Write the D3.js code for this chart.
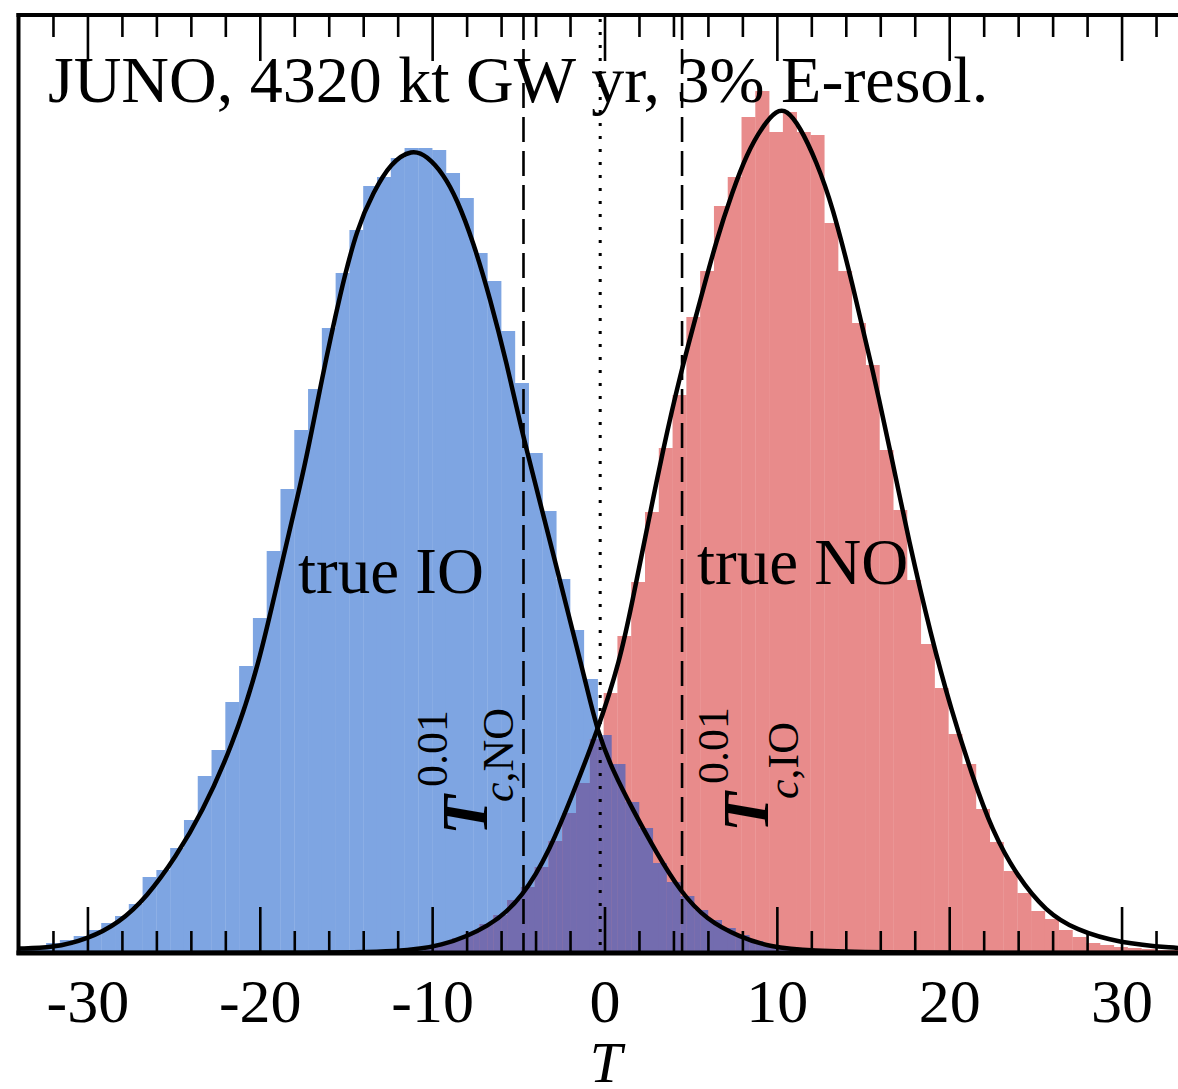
<!DOCTYPE html>
<html lang="en">
<head>
<meta charset="UTF-8">
<title>JUNO test statistic distributions</title>
<script src="https://d3js.org/d3.v7.min.js"></script>
<style>
  body { margin: 0; background: #fff; }
  svg { display: block; font-family: "Liberation Serif", "Times New Roman", serif; }
</style>
</head>
<body>
<div id="chart"></div>
<script>
// histogram of pseudo-experiments, 0.8 wide bins
const binWidth = 0.8;
const ioFirstEdge = -34.0;   // true IO (blue)
const ioCounts = [50, 70, 100, 130, 170, 230, 300, 370, 490, 760,
                  830, 1050, 1330, 1770, 2030, 2510, 2870, 3350, 4020, 4640,
                  5230, 5640, 6250, 6800, 7230, 7670, 7760, 7950, 8050, 8050,
                  8030, 7800, 7550, 7000, 6720, 6220, 5700, 5000, 4420, 3740,
                  3230, 2740, 2180, 1890, 1510, 1250, 900, 710, 570, 430,
                  330, 250, 180, 120, 80, 50, 30, 20, 10];
const noFirstEdge = -10.45;  // true NO (red)
const noCounts = [60, 100, 150, 210, 290, 380, 530, 660, 860, 1120,
                  1400, 1700, 2140, 2600, 3170, 3710, 4410, 5050, 5580, 6360,
                  6820, 7470, 7760, 8360, 8620, 8210, 8410, 8210, 8180, 7300,
                  6820, 6300, 5880, 5030, 4430, 3730, 3090, 2650, 2190, 1890,
                  1440, 1110, 820, 600, 420, 340, 230, 160, 100, 80,
                  60, 50, 40, 30, 30, 20];

// fitted distributions, points
const ioCurveT = [-34, -32.05, -29.97, -28.17, -26.55, -24.87, -23.36, -21.62, -20.06, -18.73,
                  -17.34, -16.42, -15.32, -14.35, -13.4, -12.42, -11.16, -10.3, -9.35, -8.56,
                  -7.61, -6.63, -5.66, -4.89, -3.73, -2.77, -1.61, -1.03, -0.38, 0.49,
                  1.65, 3.02, 4.37, 5.92, 7.85, 9.58, 12, 16, 22, 34];
const ioCurveN = [45, 50, 140, 300, 560, 960, 1400, 2060, 2870, 3900,
                  4890, 5730, 6610, 7255, 7610, 7900, 8040, 7970, 7790, 7540,
                  7110, 6540, 5890, 5280, 4500, 3850, 3060, 2660, 2200, 1820,
                  1430, 1000, 620, 330, 160, 60, 20, 5, 0, 0];
const noCurveT = [-34, -16, -12, -9.53, -6.63, -4.72, -3.16, -1.82, -0.45, 0.9,
                  1.65, 2.52, 3.39, 4.37, 5.53, 6.51, 7.44, 8.25, 9.18, 9.99,
                  10.57, 11.32, 12.3, 13.23, 14.39, 15.55, 16.71, 17.63, 18.96, 20.12,
                  21.34, 22.5, 23.89, 25.62, 27.36, 29.85, 33.15, 34];
const noCurveN = [0, 0, 15, 60, 260, 560, 1030, 1600, 2200, 2920,
                  3545, 4290, 5030, 5770, 6510, 7140, 7620, 7990, 8270, 8430,
                  8430, 8270, 7915, 7470, 6690, 5840, 4920, 4140, 3160, 2430,
                  1770, 1220, 780, 410, 230, 100, 50, 45];

const criticalT = [-4.7, 4.5];   // T_c^0.01 for NO and IO
const crossingT = -0.25;

const majorTicks = [-30, -20, -10, 0, 10, 20, 30];
const minorTicks = [-32, -28, -26, -24, -22, -18, -16, -14, -12, -8, -6, -4, -2,
                    2, 4, 6, 8, 12, 14, 16, 18, 22, 24, 26, 28, 32];

const W = 1178, H = 1089;
const plotL = 18.5, plotR = 1190.5, plotT = 15, plotB = 953;

const x = d3.scaleLinear().domain([-34, 34]).range([plotL, plotR]);
const y = d3.scaleLinear().domain([0, 9380]).range([plotB, plotT]);

const svg = d3.select("#chart").append("svg")
    .attr("width", W).attr("height", H);

const defs = svg.append("defs");
defs.append("clipPath").attr("id", "plotClip")
  .append("rect").attr("x", plotL).attr("y", plotT)
  .attr("width", plotR - plotL).attr("height", plotB - plotT);

const toBins = (first, counts) => counts.map((n, i) => ({x0: first + i * binWidth, x1: first + (i + 1) * binWidth, n}));
const ioBins = toBins(ioFirstEdge, ioCounts);
const noBins = toBins(noFirstEdge, noCounts);

function bars(sel, data) {
  sel.selectAll("rect").data(data).join("rect")
    .attr("x", d => x(d.x0))
    .attr("width", d => x(d.x1) - x(d.x0) + 0.3)
    .attr("y", d => y(d.n))
    .attr("height", d => y(0) - y(d.n));
}

// overlap = red bars clipped by the blue bars
bars(defs.append("clipPath").attr("id", "ioClip"), ioBins);

const plot = svg.append("g").attr("clip-path", "url(#plotClip)");
plot.append("g").attr("fill", "#7ea5e2").call(bars, ioBins);
plot.append("g").attr("fill", "#e88b8b").call(bars, noBins);
plot.append("g").attr("clip-path", "url(#ioClip)")
  .append("g").attr("fill", "#736caf").call(bars, noBins);

// critical values and crossing
plot.selectAll(".crit").data(criticalT).join("line")
    .attr("class", "crit")
    .attr("x1", d => x(d)).attr("x2", d => x(d))
    .attr("y1", plotT).attr("y2", plotB)
    .attr("stroke", "#000").attr("stroke-width", 2.6)
    .attr("stroke-dasharray", "25,9");
plot.append("line")
    .attr("x1", x(crossingT)).attr("x2", x(crossingT))
    .attr("y1", plotT + 4).attr("y2", plotB)
    .attr("stroke", "#000").attr("stroke-width", 3)
    .attr("stroke-dasharray", "3,10");

const line = d3.line()
    .x(d => x(d[0])).y(d => y(d[1]))
    .curve(d3.curveBasis);
plot.append("path").datum(d3.zip(ioCurveT, ioCurveN))
    .attr("d", line).attr("fill", "none")
    .attr("stroke", "#000").attr("stroke-width", 4.5);
plot.append("path").datum(d3.zip(noCurveT, noCurveN))
    .attr("d", line).attr("fill", "none")
    .attr("stroke", "#000").attr("stroke-width", 4.5);

// axes: ticks inside, on top and bottom
function tickAxis(axis, vals, len, labels) {
  return axis.tickValues(vals).tickSize(-len)
    .tickPadding(25)
    .tickFormat(labels ? (d => String(d)) : "");
}
const gb = svg.append("g").attr("transform", `translate(0,${plotB})`);
gb.append("g").call(tickAxis(d3.axisBottom(x), majorTicks, 46, true));
gb.append("g").call(tickAxis(d3.axisBottom(x), minorTicks, 22, false));
const gt = svg.append("g").attr("transform", `translate(0,${plotT})`);
gt.append("g").call(tickAxis(d3.axisTop(x), majorTicks, 46, false));
gt.append("g").call(tickAxis(d3.axisTop(x), minorTicks, 22, false));
svg.selectAll(".domain").remove();
svg.selectAll(".tick line").attr("stroke", "#000").attr("stroke-width", 2.6);
gb.selectAll(".tick text")
    .attr("font-family", "Liberation Serif, serif")
    .attr("font-size", 62).attr("fill", "#000");

// frame
svg.append("line").attr("x1", plotL).attr("x2", plotL).attr("y1", plotT - 2).attr("y2", plotB + 2)
    .attr("stroke", "#000").attr("stroke-width", 4);
svg.append("line").attr("x1", plotL - 2).attr("x2", W).attr("y1", plotT).attr("y2", plotT)
    .attr("stroke", "#000").attr("stroke-width", 4);
svg.append("line").attr("x1", plotL - 2).attr("x2", W).attr("y1", plotB).attr("y2", plotB)
    .attr("stroke", "#000").attr("stroke-width", 5);

// texts
svg.append("text").attr("x", 48).attr("y", 102)
    .attr("font-size", 66).text("JUNO, 4320 kt GW yr, 3% E-resol.");
svg.append("text").attr("x", 298).attr("y", 593)
    .attr("font-size", 65).text("true IO");
svg.append("text").attr("x", 697).attr("y", 584)
    .attr("font-size", 65).text("true NO");
svg.append("text").attr("x", 606).attr("y", 1082)
    .attr("text-anchor", "middle").attr("font-size", 58)
    .attr("font-style", "italic").text("T");

function critLabel(px, py, sub, subOff) {
  const t = svg.append("text")
      .attr("transform", `translate(${px},${py}) rotate(-90)`);
  t.append("tspan").attr("x", 0).attr("y", 0)
      .attr("font-size", 65).attr("font-style", "italic").attr("font-weight", "bold").text("T");
  t.append("tspan").attr("x", 48).attr("y", -40)
      .attr("font-size", 44).text("0.01");
  const s = t.append("tspan").attr("x", 33).attr("y", subOff).attr("font-size", 44);
  s.append("tspan").attr("font-style", "italic").text("c");
  s.append("tspan").text("," + sub);
}
critLabel(487, 835, "NO", 26);
critLabel(768, 832, "IO", 30);
</script>
</body>
</html>
